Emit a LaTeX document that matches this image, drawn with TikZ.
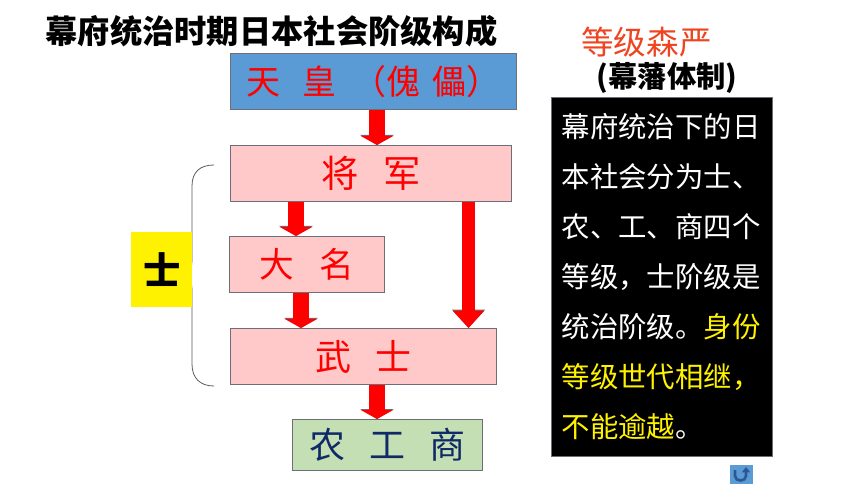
\documentclass[tikz,border=0pt]{standalone}
\usepackage{xcolor}
\usepackage{fontspec}
\usepackage{tikz}
\usetikzlibrary{arrows.meta}
\usetikzlibrary{positioning}
\setmainfont{Noto Sans CJK SC}
\definecolor{tianblue}{HTML}{5B9BD5}
\definecolor{jiangpink}{HTML}{FFC9C9}
\definecolor{nonggreen}{HTML}{C5DFB4}
\definecolor{nongnavy}{HTML}{0F2A66}
\definecolor{edgegray}{HTML}{6E6E78}
\definecolor{dengorange}{HTML}{EE4420}
\tikzset{>=latex}
\tikzset{
  levelbox/.style = {rectangle, draw=edgegray, line width=.8pt, anchor=north west, inner sep=0, text=red, align=center},
  bigarrow/.style = {line width=12pt, draw=red, fill=red, -{Triangle[length=6.75pt,width=24pt]},
    preaction={draw=edgegray, line width=12.7pt, -{Triangle[length=7.5pt,width=25pt]}}},
  thinarrow/.style = {line width=9.5pt, draw=red, fill=red, -{Triangle[length=13pt,width=23pt]},
    preaction={draw=edgegray, line width=10.2pt, -{Triangle[length=13.8pt,width=24pt]}}},
}
\begin{document}
\begin{tikzpicture}[x=.75pt, y=-.75pt]
\useasboundingbox (0,0) rectangle (860,484);
\node [inner sep=0, font=\fontsize{24.2pt}{26pt}\selectfont\bfseries] (title) at (271.5,31) {幕府统治时期日本社会阶级构成};
% left column
\node [levelbox, fill=tianblue, minimum width=214.5pt, minimum height=42pt, font=\fontsize{25.5pt}{27pt}\selectfont] (tianhuang) at (230,53) {天\hspace{.65em}皇\hspace{.45em}（傀\hspace{.35em}儡）};
\node [levelbox, fill=jiangpink, minimum width=211pt, minimum height=42pt, font=\fontsize{28pt}{30pt}\selectfont] (jiangjun) at (230,145) {将\hspace{.65em}军};
\node [levelbox, fill=jiangpink, minimum width=116pt, minimum height=42pt, font=\fontsize{26pt}{28pt}\selectfont] (daming) at (229,236) {大\hspace{.75em}名};
\node [levelbox, fill=jiangpink, minimum width=199.5pt, minimum height=42pt, font=\fontsize{27pt}{29pt}\selectfont] (wushi) at (230,328) {武\hspace{.65em}士};
\node [levelbox, fill=nonggreen, text=nongnavy, minimum width=142.5pt, minimum height=38pt, font=\fontsize{27pt}{29pt}\selectfont] (nonggong) at (292,419) {农\hspace{.68em}工\hspace{.68em}商};
% arrows
\coordinate (midA) at (377,0);
\coordinate (midB) at (296,0);
\coordinate (midC) at (301,0);
\coordinate (midD) at (468.5,0);
\draw [bigarrow] (tianhuang.south -| midA) -- (jiangjun.north -| midA);
\draw [bigarrow] (jiangjun.south -| midB) -- (daming.north -| midB);
\draw [bigarrow] (daming.south -| midC) -- (wushi.north -| midC);
\draw [thinarrow] (jiangjun.south -| midD) -- (wushi.north -| midD);
\draw [bigarrow] (wushi.south -| midA) -- (nonggong.north -| midA);
% brace and its label
\draw [edgegray!80!black, line width=.6pt] (214,165) .. controls (200,165) and (192,172) .. (192,186) -- (192,258) .. controls (192,268) and (190,275) .. (184,275) .. controls (190,275) and (192,282) .. (192,292) -- (192,364) .. controls (192,378) and (200,386) .. (214,386);
\node [rectangle, fill=yellow, anchor=north west, minimum width=45.75pt, minimum height=56.25pt, inner sep=0, font=\fontsize{28pt}{30pt}\selectfont\bfseries] (shi) at (131,232) {士};
% right column
\node [inner sep=0, text=dengorange, font=\fontsize{24.4pt}{26pt}\selectfont] (dengji) at (646.5,42) {等级森严};
\node [inner sep=0, font=\fontsize{22pt}{24pt}\selectfont\bfseries] (mufan) at (667,78) {(幕藩体制)};
\node [rectangle, fill=black, draw=edgegray, line width=.4pt, anchor=north west, minimum width=165.5pt, minimum height=269.25pt, text width=150pt, inner sep=0, text=white, align=left, font=\fontsize{21.3pt}{37.5pt}\selectfont] (textbox) at (551,97) {幕府统治下的日\\本社会分为士、\\农、工、商四个\\等级，士阶级是\\统治阶级。\textcolor{yellow}{身份}\\\textcolor{yellow}{等级世代相继，}\\\textcolor{yellow}{不能逾越}。};
% return button
\node [rectangle, fill=tianblue, anchor=north west, minimum width=17pt, minimum height=14.5pt, inner sep=0] (backbtn) at (730,465) {};
\draw [draw=nongnavy!60!tianblue, line width=2pt, -{Triangle[length=4pt,width=6pt]}] (735,470) -- (735,476) .. controls (735,482) and (746,482) .. (746,476) -- (746,467);
\end{tikzpicture}
\end{document}
